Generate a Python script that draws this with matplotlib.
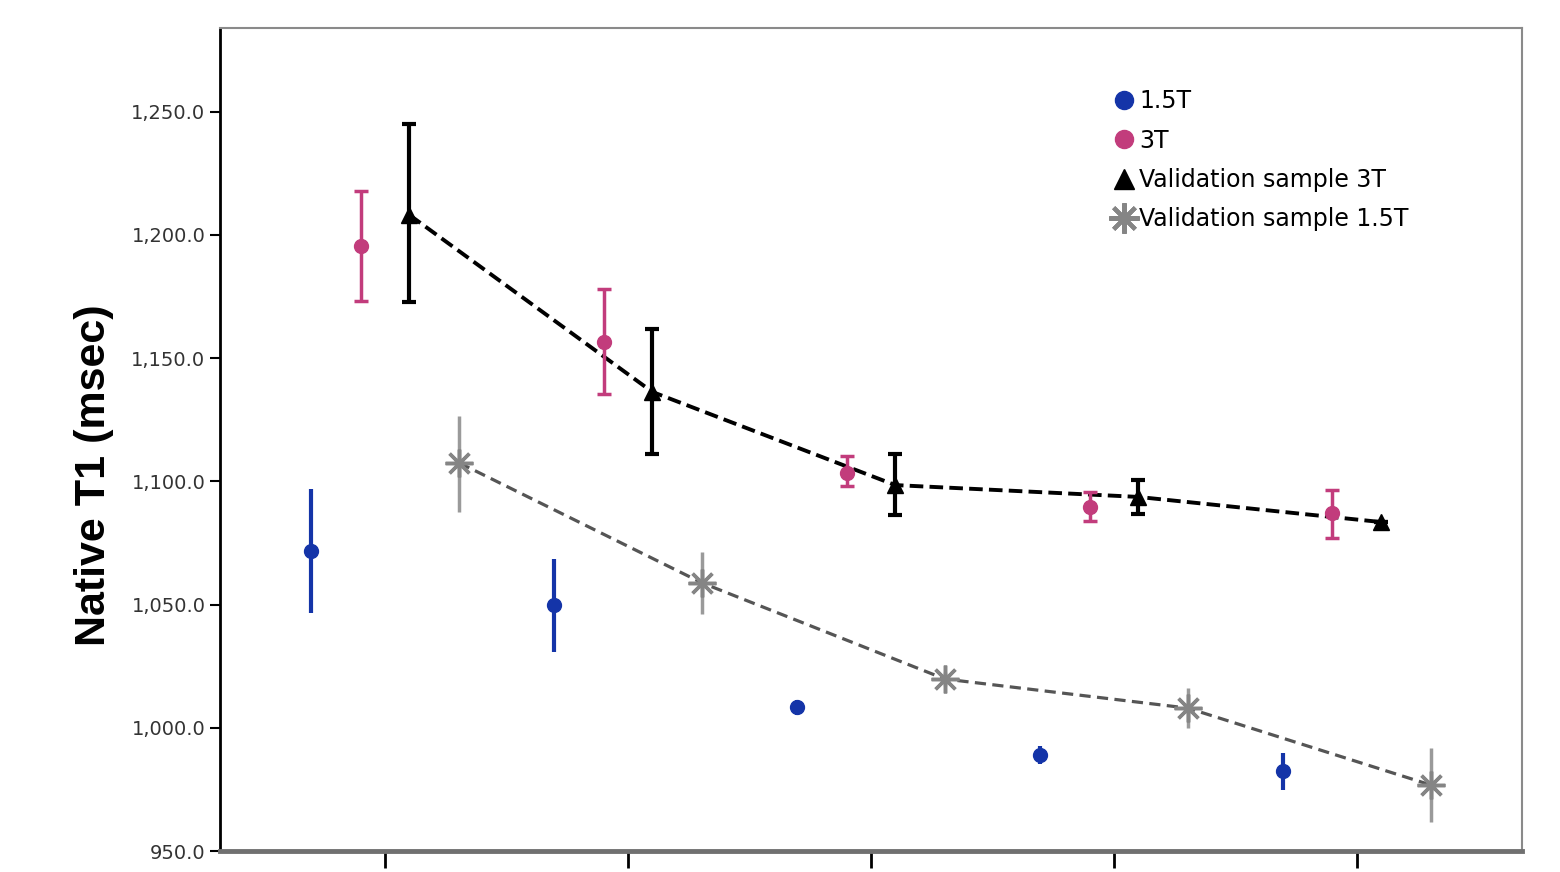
import numpy as np
import matplotlib.pyplot as plt
from matplotlib.lines import Line2D

# five groups along x (tick labels are cropped off in the source)
groups = np.arange(5)

# 1.5T (blue), mean with lower / upper CI
t15_mean = [1071.8, 1049.8, 1008.4, 989.0, 982.5]
t15_lo = [1046.6, 1030.8, 1005.4, 985.5, 974.8]
t15_hi = [1097.0, 1068.5, 1011.4, 992.5, 989.8]

# 3T (magenta)
t3_mean = [1195.5, 1156.6, 1103.4, 1089.6, 1087.2]
t3_lo = [1173.2, 1135.5, 1098.1, 1083.9, 1077.0]
t3_hi = [1217.9, 1178.1, 1110.3, 1095.7, 1096.5]

# validation sample 3T (black triangles)
v3_mean = [1208.1, 1136.3, 1098.5, 1093.7, 1083.5]
v3_lo = [1172.8, 1111.0, 1086.4, 1086.8, 1083.5]
v3_hi = [1245.0, 1161.9, 1111.1, 1100.6, 1083.5]

# validation sample 1.5T (grey stars)
v15_mean = [1107.5, 1058.8, 1019.8, 1008.0, 976.8]
v15_lo = [1087.6, 1046.2, 1016.8, 1000.0, 961.8]
v15_hi = [1126.5, 1071.3, 1022.8, 1016.0, 991.8]

blue = "#1434a8"
magenta = "#c23c7c"
grey = "#858585"


def err(mean, lo, hi):
    m = np.array(mean)
    return m, np.vstack([m - np.array(lo), np.array(hi) - m])


fig = plt.figure(figsize=(15.6, 8.72), dpi=100)
ax = fig.add_axes([0.141, 0.024, 0.8346, 0.944])

m, e = err(t15_mean, t15_lo, t15_hi)
ax.errorbar(groups - 0.305, m, yerr=e, fmt="o", color=blue, ms=10,
            elinewidth=3, capsize=0, zorder=3)

m, e = err(t3_mean, t3_lo, t3_hi)
ax.errorbar(groups - 0.10, m, yerr=e, fmt="o", color=magenta, ms=10,
            elinewidth=2.5, capsize=5, capthick=2.5, zorder=3)

m, e = err(v3_mean, v3_lo, v3_hi)
ax.plot(groups + 0.10, m, ls=(0, (3.5, 1.6)), color="black", lw=2.8, zorder=2)
ax.errorbar(groups + 0.10, m, yerr=e, fmt="^", color="black", ms=12,
            elinewidth=3, capsize=5, capthick=3, zorder=4)

m, e = err(v15_mean, v15_lo, v15_hi)
ax.plot(groups + 0.305, m, ls=(0, (3.5, 2)), color="#555555", lw=2.3, zorder=2)
ax.errorbar(groups + 0.305, m, yerr=e, fmt="none", ecolor="#9a9a9a",
            elinewidth=2.5, capsize=0, zorder=3)
ax.plot(groups + 0.305, m, ls="none", marker=(8, 2, 0), ms=20, mew=2.5,
        color=grey, zorder=4)

ax.set_xlim(-0.68, 4.68)
ax.set_ylim(950, 1284)
ax.set_xticks(groups)
ax.set_xticklabels([""] * 5)
ax.set_yticks(np.arange(950, 1251, 50))
ax.set_yticklabels([f"{v:,.1f}" for v in np.arange(950, 1251, 50)])
ax.tick_params(axis="y", length=7, width=1.5, labelsize=14, labelcolor="#333333")
ax.tick_params(axis="x", length=12, width=2)

for s in ["top", "right"]:
    ax.spines[s].set_color("#8a8a8a")
    ax.spines[s].set_linewidth(1.5)
ax.spines["bottom"].set_color("#707070")
ax.spines["bottom"].set_linewidth(3.5)
ax.spines["left"].set_color("black")
ax.spines["left"].set_linewidth(2)

ax.set_ylabel("Native T1 (msec)", fontsize=31, fontweight="bold",
              family="Liberation Sans")
ax.yaxis.set_label_coords(-0.081, 0.457)

handles = [
    Line2D([], [], ls="none", marker="o", color=blue, ms=13),
    Line2D([], [], ls="none", marker="o", color=magenta, ms=13),
    Line2D([], [], ls="none", marker="^", color="black", ms=14),
    Line2D([], [], ls="none", marker=(8, 2, 0), color=grey, ms=22, mew=3),
]
labels = ["1.5T", "3T", "Validation sample 3T", "Validation sample 1.5T"]
ax.legend(handles, labels, loc="upper left", bbox_to_anchor=(0.678, 0.937),
          frameon=False, fontsize=17, handlelength=1.0, handletextpad=0.15,
          labelspacing=0.65, borderaxespad=0)

fig.savefig("out.png", dpi=100)
